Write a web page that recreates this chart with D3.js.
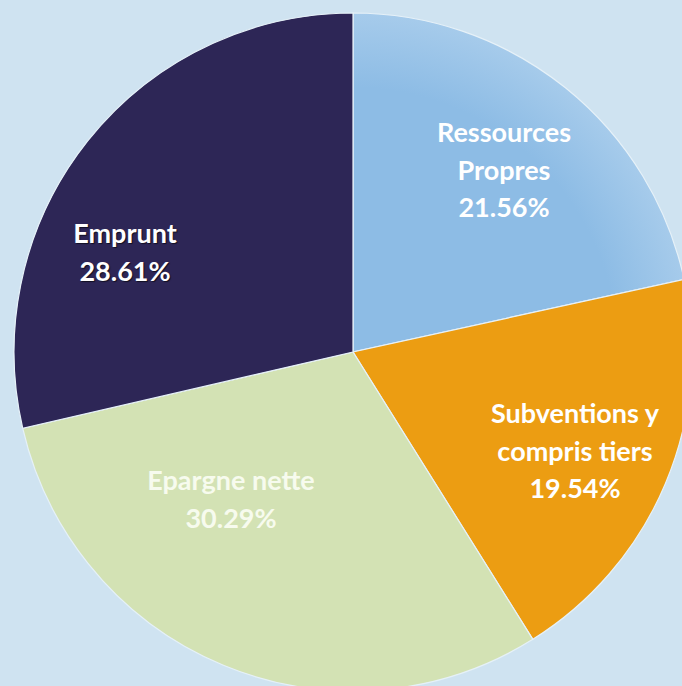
<!DOCTYPE html>
<html><head><meta charset="utf-8">
<script src="https://cdn.jsdelivr.net/npm/d3@7"></script>
<style>html,body{margin:0;padding:0;background:#cfe3f1;overflow:hidden}</style>
</head><body>
<svg id="c" width="682" height="686"></svg>
<script>
const categories = ["Ressources Propres", "Subventions y compris tiers", "Epargne nette", "Emprunt"];
const values = [21.56, 19.54, 30.29, 28.61];
const labelLines = [["Ressources", "Propres", "21.56%"], ["Subventions y", "compris tiers", "19.54%"], ["Epargne nette", "30.29%"], ["Emprunt", "28.61%"]];
const colors = ["#8dbce5", "#ec9d12", "#d3e2b4", "#2d2656"];
const textColors = ["#ffffff", "#ffffff", "#f7fbee", "#ffffff"];

// layout
const W = 682, H = 686, cx = 353, cy = 352, R = 339;
const labelAnchors = [[504, 142], [575, 423], [231, 490], [125, 243]];
const lineH = 37.5;

const svg = d3.select("#c");
svg.append("rect").attr("width", W).attr("height", H).attr("fill", "#cfe3f1");

const defs = svg.append("defs");
const rg = defs.append("radialGradient").attr("id", "rg").attr("gradientUnits", "userSpaceOnUse")
  .attr("cx", 0).attr("cy", 0).attr("r", R);
rg.append("stop").attr("offset", "0.78").attr("stop-color", "#8dbce5");
rg.append("stop").attr("offset", "1").attr("stop-color", "#a6cbeb");

const pie = d3.pie().sort(null).value(d => d);
const arc = d3.arc().innerRadius(0).outerRadius(R);
const arcs = pie(values);

const g = svg.append("g").attr("transform", `translate(${cx},${cy})`);
g.selectAll("path").data(arcs).join("path")
  .attr("d", arc)
  .attr("fill", (d, i) => i === 0 ? "url(#rg)" : colors[i])
  .attr("stroke", "#e6f1f8").attr("stroke-width", 1.2);

const tg = svg.append("g");
labelLines.forEach((lines, i) => {
  const [x, y] = labelAnchors[i];
  const t = tg.append("text")
    .attr("text-anchor", "middle")
    .attr("font-family", "Lato, 'Open Sans', sans-serif")
    .attr("font-weight", "bold")
    .attr("font-size", 27)
    .attr("fill", textColors[i]);
  if (i === 3) t.style("text-shadow", "1px 1px 1px rgba(0,0,0,0.6)");
  lines.forEach((s, k) => {
    t.append("tspan").attr("x", x).attr("y", y + k * lineH).text(s);
  });
});
</script>
</body></html>
